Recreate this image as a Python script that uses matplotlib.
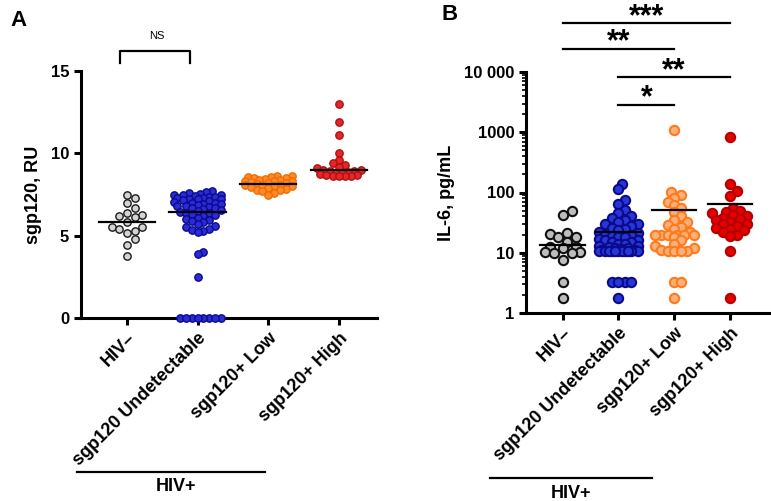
import numpy as np
import matplotlib
matplotlib.use("Agg")
import matplotlib.pyplot as plt
from matplotlib.ticker import FixedLocator, LogLocator, NullFormatter
import matplotlib.transforms as mtrans

plt.rcParams['font.family'] = ['Liberation Sans', 'DejaVu Sans']
plt.rcParams['font.weight'] = 'bold'
plt.rcParams['axes.labelweight'] = 'bold'

groups = ["HIV–", "sgp120 Undetectable", "sgp120+ Low", "sgp120+ High"]

# panel A: sgp120, RU
hivneg_a = [7.5, 7.27, 6.96, 6.7, 6.36, 6.25, 6.19, 6.11, 5.85, 5.51, 5.51,
            5.42, 5.3, 5.18, 4.78, 4.45, 3.76]
undet_a = [7.7, 7.65, 7.6, 7.55, 7.5, 7.45, 7.45, 7.4, 7.35, 7.35, 7.3, 7.3,
           7.25, 7.2, 7.2, 7.15, 7.1, 7.05, 7.0, 7.0, 6.95, 6.9, 6.85, 6.8,
           6.8, 6.75, 6.7, 6.65, 6.6, 6.55, 6.5, 6.45, 6.4, 6.35, 6.3, 6.25,
           6.2, 6.1, 6.0, 5.95, 5.9, 5.8, 5.7, 5.6, 5.5, 5.4, 5.35, 5.3, 5.25,
           3.99, 3.9, 2.51, 0, 0, 0, 0, 0, 0, 0, 0]
low_a = [8.6, 8.6, 8.55, 8.55, 8.5, 8.5, 8.45, 8.4, 8.4, 8.35, 8.3, 8.3, 8.25,
         8.2, 8.2, 8.15, 8.1, 8.1, 8.05, 8.0, 8.0, 7.95, 7.9, 7.85, 7.8, 7.75,
         7.7, 7.6, 7.5]
high_a = [13.0, 11.9, 11.1, 10.04, 9.6, 9.4, 9.3, 9.2, 9.1, 9.0, 9.0, 8.95,
          8.9, 8.85, 8.8, 8.8, 8.75, 8.7, 8.7, 8.65, 8.6, 8.6, 8.6]
center_a = [5.83, 6.45, 8.12, 9.0]

# panel B: IL-6, pg/mL
hivneg_b = [49, 42.5, 21, 20.5, 18.5, 18, 15.2, 12.6, 12.6, 11.8, 10.4, 10.4,
            9.8, 9.8, 7.7, 3.3, 1.75]
undet_b = [141, 113, 75, 65, 52, 45, 40, 38, 35, 33, 30, 30, 28, 26, 25, 24,
           22, 21, 20, 20, 19, 18, 18, 17, 16, 16, 15, 15, 14, 14, 13, 13,
           12.5, 12, 12, 11.5, 11, 11, 11, 10.5, 10.5, 10.5, 10.5, 10.5, 10.5,
           10.5, 10.5, 10.5, 10.5, 10.5, 3.3, 3.3, 3.3, 3.3, 1.75]
low_b = [1110, 103, 92, 81, 70, 62, 55, 48, 40, 35, 32, 29, 27, 25, 22, 20,
         20, 20, 20, 20, 20, 18, 16, 14, 13, 12, 11, 10.5, 10.5, 10.5, 10.5,
         3.3, 3.3, 1.75]
high_b = [850, 141, 107, 88, 55, 50, 48, 45, 42, 40, 38, 36, 35, 33, 30, 30,
          28, 26, 25, 24, 22, 20, 19, 10.5, 1.75]
center_b = [13.3, 22, 51, 64]

face_a = ['#d4d4d4', '#2b2bd6', '#ff8a2a', '#e8262a']
edge_a = ['#1a1a1a', '#0a0a8c', '#f26b00', '#b01010']
face_b = ['#bdbdbd', '#2636d8', '#ffb07a', '#e60000']
edge_b = ['#111111', '#0b0b8a', '#ff7a1a', '#b30000']


def swarm(ax, xc, vals, diam, min_frac, max_px):
    """greedy beeswarm in pixel space, returns x in data units"""
    vals = np.asarray(vals, float)
    pts = ax.transData.transform(np.column_stack([np.full(len(vals), xc), vals]))
    ypx = pts[:, 1]
    px_per_unit = ax.transData.transform((xc + 1, vals[0]))[0] - pts[0, 0]
    order = np.argsort(ypx)
    dmin = diam * min_frac
    step = dmin * 0.5
    cand = [0.0]
    k = 1
    while k * step <= max_px:
        cand += [k * step, -k * step]
        k += 1
    placed = []
    offs = np.zeros(len(vals))
    for i in order:
        best, bestd = None, -1
        for c in cand:
            if placed:
                d = min(np.hypot(c - px, ypx[i] - py) for px, py in placed)
            else:
                d = 1e9
            if d >= dmin:
                best = c
                break
            if d > bestd:
                best, bestd = c, d
        offs[i] = best
        placed.append((best, ypx[i]))
    return xc + offs / px_per_unit


fig = plt.figure(figsize=(7.71, 5.01), dpi=100)
axA = fig.add_axes([81 / 771, 1 - 318 / 501, 296 / 771, 247 / 501])
axB = fig.add_axes([526 / 771, 1 - 313 / 501, 244 / 771, 241 / 501])

for ax in (axA, axB):
    for s in ('top', 'right'):
        ax.spines[s].set_visible(False)
    for s in ('left', 'bottom'):
        ax.spines[s].set_linewidth(2.2)
    ax.tick_params(width=2.2, length=5, labelsize=12)
    ax.set_xticks(range(4))
    ax.set_xticklabels(groups, rotation=45, ha='right', va='top',
                       rotation_mode='anchor', fontsize=13)

# ---- panel A
axA.set_xlim(-0.65, 3.54)
axA.set_ylim(0, 15)
axA.set_yticks([0, 5, 10, 15])
axA.set_ylabel("sgp120, RU", fontsize=13, labelpad=6)
dataA = [hivneg_a, undet_a, low_a, high_a]
fracA = [1.05, 0.8, 0.8, 0.85]
for i, vals in enumerate(dataA):
    xs = swarm(axA, i, vals, 7.3, fracA[i], 24)
    axA.scatter(xs, vals, s=28, c=face_a[i], edgecolors=edge_a[i],
                linewidths=1.0, zorder=3, clip_on=False)
    axA.plot([i - 0.4, i + 0.4], [center_a[i]] * 2, color='black', lw=1.6, zorder=4)

trA = mtrans.blended_transform_factory(axA.transData, axA.transAxes)
axA.plot([-0.1, -0.1, 0.9, 0.9], [1.032, 1.081, 1.081, 1.032], color='black',
         lw=1.6, transform=trA, clip_on=False)
axA.text(0.42, 1.14, "NS", transform=trA, ha='center', va='center',
         fontsize=8, fontweight='normal')
axA.plot([-0.71, 1.95], [-0.623, -0.623], color='black', lw=1.6,
         transform=trA, clip_on=False)
axA.text(0.69, -0.684, "HIV+", transform=trA, ha='center', va='center', fontsize=13)

# ---- panel B
axB.set_yscale('log')
axB.set_xlim(-0.66, 3.72)
axB.set_ylim(1, 10000)
axB.yaxis.set_major_locator(FixedLocator([1, 10, 100, 1000, 10000]))
axB.set_yticklabels(["1", "10", "100", "1000", "10 000"])
axB.yaxis.set_minor_locator(LogLocator(base=10, subs=np.arange(2, 10)))
axB.yaxis.set_minor_formatter(NullFormatter())
axB.tick_params(axis='y', which='minor', width=1.2, length=3)
axB.set_ylabel("IL-6, pg/mL", fontsize=13, labelpad=6)
dataB = [hivneg_b, undet_b, low_b, high_b]
fracB = [0.95, 0.7, 0.7, 0.75]
for i, vals in enumerate(dataB):
    xs = swarm(axB, i, vals, 9.3, fracB[i], 20)
    axB.scatter(xs, vals, s=45, c=face_b[i], edgecolors=edge_b[i],
                linewidths=1.5, zorder=3, clip_on=False)
    axB.plot([i - 0.4, i + 0.4], [center_b[i]] * 2, color='black', lw=1.6, zorder=4)

trB = mtrans.blended_transform_factory(axB.transData, axB.transAxes)
sig = [(0, 3, 1.203, 1.195, "***"), (0, 2, 1.095, 1.091, "**"),
       (1, 3, 0.979, 0.971, "**"), (1, 2, 0.863, 0.859, "*")]
for x0, x1, yl, yt, lab in sig:
    axB.plot([x0, x1], [yl, yl], color='black', lw=1.6, transform=trB, clip_on=False)
    axB.text((x0 + x1) / 2, yt, lab, transform=trB, ha='center',
             va='baseline', fontsize=22)
axB.plot([-1.31, 1.6], [-0.685, -0.685], color='black', lw=1.6,
         transform=trB, clip_on=False)
axB.text(0.14, -0.751, "HIV+", transform=trB, ha='center', va='center', fontsize=13)

fig.text(10 / 771, 1 - 20 / 501, "A", fontsize=16, ha='left', va='center')
fig.text(442 / 771, 1 - 15 / 501, "B", fontsize=16, ha='left', va='center')

fig.savefig("out.png", dpi=100)
